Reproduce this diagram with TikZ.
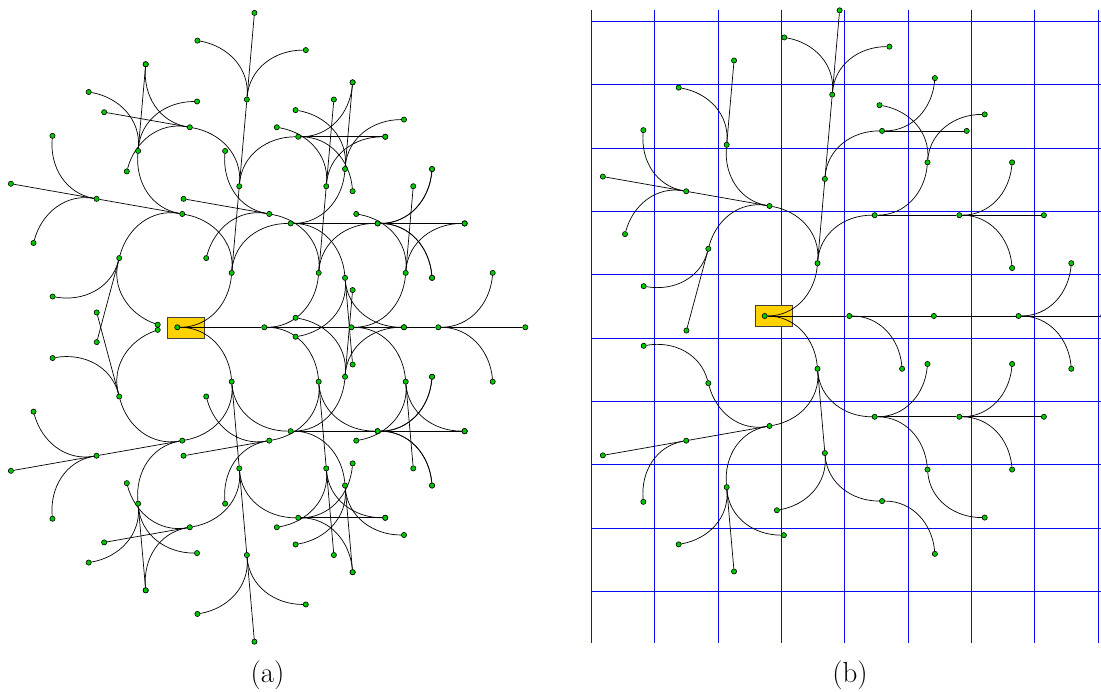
\documentclass[tikz,border=0pt]{standalone}
\usepackage{fontspec}
\pgfdeclarelayer{back}
\pgfdeclarelayer{edges}
\pgfsetlayers{back,edges,main}
\definecolor{dotgreen}{RGB}{0,200,0}
\definecolor{gridblue}{RGB}{10,10,245}
\definecolor{rootyellow}{RGB}{255,210,0}
\tikzset{
  dot/.style={circle,draw=black,line width=0.6pt,fill=dotgreen,inner sep=0pt,minimum size=5.2pt},
  edge/.style={draw=black,line width=0.7pt},
  rootbox/.style={rectangle,draw=black!75,line width=0.7pt,fill=rootyellow,inner sep=0pt,minimum width=37pt,minimum height=21pt},
  gridline/.style={draw=gridblue,line width=1.5pt},
  label/.style={font=\fontsize{29}{32}\selectfont,inner sep=0pt}
}
\newcommand\setroot[4]{%
  \expandafter\xdef\csname tpx@#1\endcsname{#2}%
  \expandafter\xdef\csname tpy@#1\endcsname{#3}%
  \expandafter\xdef\csname tph@#1\endcsname{#4}%
  \node[dot] (#1) at (#2,#3) {};%
}
\newcommand\treechild[2]{%
  \edef\tpname{#1}%
  \edef\tletter{#2}%
  \edef\tcname{#1#2}%
  \edef\tpx{\csname tpx@\tpname\endcsname}%
  \edef\tpy{\csname tpy@\tpname\endcsname}%
  \edef\tph{\csname tph@\tpname\endcsname}%
  \if S\tletter
    \pgfmathsetmacro\tnx{\tpx+\lenS*cos(\tph)}%
    \pgfmathsetmacro\tny{\tpy+\lenS*sin(\tph)}%
    \let\tnh\tph
  \else\if L\tletter
    \pgfmathsetmacro\tnx{\tpx+\lenA*(cos(\tph)-sin(\tph))}%
    \pgfmathsetmacro\tny{\tpy+\lenA*(sin(\tph)+cos(\tph))}%
    \pgfmathsetmacro\tnh{\tph+\turn}%
  \else
    \pgfmathsetmacro\tnx{\tpx+\lenA*(cos(\tph)+sin(\tph))}%
    \pgfmathsetmacro\tny{\tpy+\lenA*(sin(\tph)-cos(\tph))}%
    \pgfmathsetmacro\tnh{\tph-\turn}%
  \fi\fi
  \expandafter\xdef\csname tpx@\tcname\endcsname{\tnx}%
  \expandafter\xdef\csname tpy@\tcname\endcsname{\tny}%
  \expandafter\xdef\csname tph@\tcname\endcsname{\tnh}%
  \node[dot] (\tcname) at (\tnx,\tny) {};%
  \pgfmathsetmacro\tinang{\tnh+180}%
  \begin{pgfonlayer}{edges}%
  \if S\tletter
    \draw[edge] (\tpname) -- (\tcname);%
  \else
    \draw[edge] (\tpname) to[out=\tph,in=\tinang] (\tcname);%
  \fi
  \end{pgfonlayer}%
}
\newcommand\kids[2]{\foreach \kk in {#2}{\treechild{#1}{\kk}}}
\def\turn{85}
\begin{document}
\begin{tikzpicture}[x=1pt,y=1pt]
\useasboundingbox (0,0) rectangle (1101,692);
% ---------- panel (b) grid ----------
\begin{pgfonlayer}{back}
\foreach \gx in {591.5,654.5,718.5,781.5,844.5,908.5,971.5,1034.5,1098.5}{
  \draw[gridline] (\gx,682) -- (\gx,49);
}
\foreach \gy in {670.5,607.5,543.5,480.5,417.5,353.5,290.5,227.5,163.5,100.5}{
  \draw[gridline] (591,\gy) -- (1101,\gy);
}
\node[rootbox] (aBox) at (186.3,364.3) {};
\node[rootbox] (bBox) at (773.4,375.7) {};
\end{pgfonlayer}
% ---------- panel (a): complete tree ----------
\def\lenS{87}\def\lenA{54.4}
\setroot{a}{177.3}{364.7}{0}
\foreach \pa in {S,L,R}{%
  \treechild{a}{\pa}%
  \foreach \pb in {S,L,R}{%
    \treechild{a\pa}{\pb}%
    \foreach \pc in {S,L,R}{%
      \treechild{a\pa\pb}{\pc}%
      \foreach \pd in {S,L,R}{\treechild{a\pa\pb\pc}{\pd}}%
    }%
  }%
}
% ---------- panel (b): pruned tree ----------
\def\lenS{84.6}\def\lenA{52.8}
\setroot{b}{764.7}{376}{0}
\kids{b}{S,L,R}
\kids{bS}{S,R}
\kids{bSS}{S}
\kids{bSSS}{S,L,R}
\kids{bL}{S,L,R}
\kids{bLS}{S,R}
\kids{bLSS}{S,L,R}
\kids{bLSR}{S,L}
\kids{bLL}{S,R,L}
\kids{bLLS}{S,R,L}
\kids{bLLR}{S,L}
\kids{bLLL}{S,R}
\kids{bLR}{S,L}
\kids{bLRS}{S,L,R}
\kids{bLRL}{L,R}
\kids{bR}{S,R,L}
\kids{bRS}{R,L}
\kids{bRSL}{R}
\kids{bRR}{S,R,L}
\kids{bRRS}{S,L}
\kids{bRRR}{L}
\kids{bRRL}{S,R,L}
\kids{bRL}{S,L,R}
\kids{bRLS}{S,L,R}
\kids{bRLR}{L}
% ---------- labels ----------
\node[label] (labA) at (267.5,17) {(a)};
\node[label] (labB) at (850,17) {(b)};
\end{tikzpicture}
\end{document}
